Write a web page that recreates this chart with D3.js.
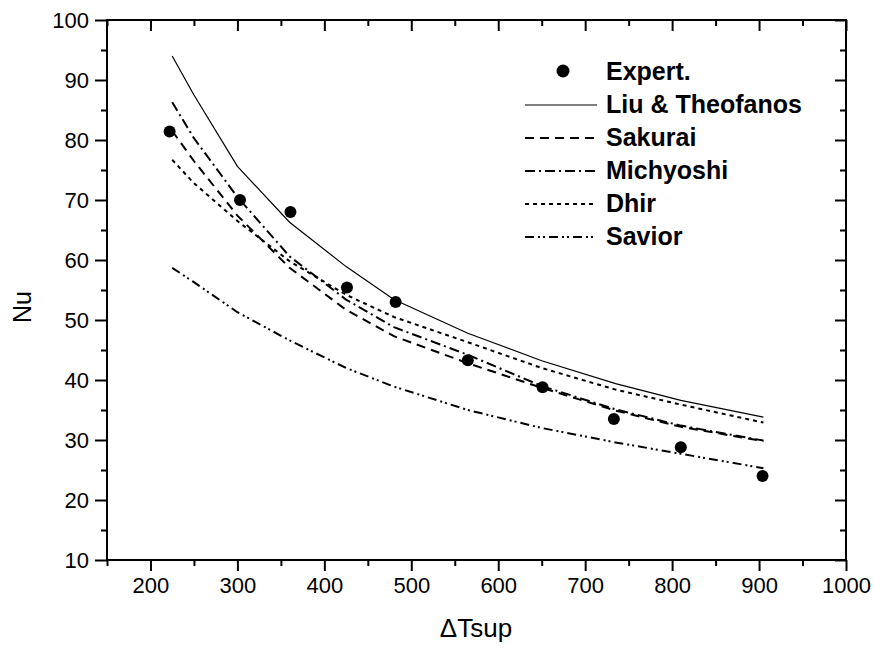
<!DOCTYPE html>
<html>
<head>
<meta charset="utf-8">
<script src="https://cdn.jsdelivr.net/npm/d3@7"></script>
<style>
  body { margin: 0; background: #fff; }
  text { font-family: "Liberation Sans", Arial, sans-serif; fill: #000; }
</style>
</head>
<body>
<div id="chart"></div>
<script>
// experimental points
var expertX = [222, 303, 361, 426, 482, 565, 651, 733, 810, 904];
var expertY = [81.4, 70.0, 68.0, 55.4, 53.0, 43.3, 38.8, 33.5, 28.8, 24.0];

// correlations, read at these superheat values
var curveX = [225, 250, 300, 360, 425, 480, 565, 650, 735, 810, 905];
var liuY = [94.0, 87.5, 75.6, 66.3, 58.9, 53.4, 47.8, 43.2, 39.4, 36.6, 33.8];
var sakuraiY = [81.5, 76.5, 67.4, 58.7, 51.7, 47.3, 42.8, 38.7, 34.9, 32.2, 29.8];
var michyoshiY = [86.3, 80.3, 70.5, 60.6, 53.4, 48.8, 44.2, 39.0, 35.1, 32.4, 29.9];
var dhirY = [76.7, 72.8, 66.5, 59.8, 54.2, 50.5, 46.3, 42.0, 38.4, 35.9, 32.9];
var saviorY = [58.7, 56.3, 51.3, 46.6, 42.0, 38.9, 35.0, 32.0, 29.6, 27.7, 25.3];

var xMajor = [200, 300, 400, 500, 600, 700, 800, 900, 1000];
var xMinor = [150, 250, 350, 450, 550, 650, 750, 850, 950];
var yMajor = [10, 20, 30, 40, 50, 60, 70, 80, 90, 100];
var yMinor = [15, 25, 35, 45, 55, 65, 75, 85, 95];

var series = [
    { name: "Liu & Theofanos", y: liuY, dash: null, w: 1.2 },
    { name: "Sakurai", y: sakuraiY, dash: "9,6", w: 2 },
    { name: "Michyoshi", y: michyoshiY, dash: "10,4,2,4", w: 2 },
    { name: "Dhir", y: dhirY, dash: "4,4", w: 2 },
    { name: "Savior", y: saviorY, dash: "9,4,2,3,2,4", w: 2 }
];

var width = 874;
var height = 648;

var svg = d3.select("#chart")
    .append("svg")
    .attr("width", width)
    .attr("height", height);

var x = d3.scaleLinear().domain([150, 1000]).range([107, 846]);
var y = d3.scaleLinear().domain([10, 100]).range([560, 20]);

// tick marks: bottom/left outward, top/right inward
svg.append("g")
    .attr("transform", "translate(0,560)")
    .call(d3.axisBottom(x).tickValues(xMajor).tickSize(11).tickPadding(6).tickFormat(d3.format("d")))
    .call(function(g) { g.select(".domain").remove(); });
svg.append("g")
    .attr("transform", "translate(0,560)")
    .call(d3.axisBottom(x).tickValues(xMinor).tickSize(6).tickFormat(""))
    .call(function(g) { g.select(".domain").remove(); });

svg.append("g")
    .attr("transform", "translate(107,0)")
    .call(d3.axisLeft(y).tickValues(yMajor).tickSize(12).tickPadding(6))
    .call(function(g) { g.select(".domain").remove(); });
svg.append("g")
    .attr("transform", "translate(107,0)")
    .call(d3.axisLeft(y).tickValues(yMinor).tickSize(6).tickFormat(""))
    .call(function(g) { g.select(".domain").remove(); });

svg.append("g")
    .attr("transform", "translate(0,20)")
    .call(d3.axisBottom(x).tickValues(xMajor).tickSize(11).tickFormat(""))
    .call(function(g) { g.select(".domain").remove(); });
svg.append("g")
    .attr("transform", "translate(0,20)")
    .call(d3.axisBottom(x).tickValues(xMinor).tickSize(6).tickFormat(""))
    .call(function(g) { g.select(".domain").remove(); });

svg.append("g")
    .attr("transform", "translate(846,0)")
    .call(d3.axisLeft(y).tickValues(yMajor).tickSize(11).tickFormat(""))
    .call(function(g) { g.select(".domain").remove(); });
svg.append("g")
    .attr("transform", "translate(846,0)")
    .call(d3.axisLeft(y).tickValues(yMinor).tickSize(6).tickFormat(""))
    .call(function(g) { g.select(".domain").remove(); });

svg.selectAll(".tick line").attr("stroke", "#000").attr("stroke-width", 2);
svg.selectAll(".tick text")
    .style("font-family", "'Liberation Sans', Arial, sans-serif")
    .style("font-size", "22px")
    .attr("fill", "#000");

// frame
svg.append("rect")
    .attr("x", 107).attr("y", 20)
    .attr("width", 846 - 107).attr("height", 560 - 20)
    .attr("fill", "none")
    .attr("stroke", "#000")
    .attr("stroke-width", 2);

// curves
var line = d3.line()
    .x(function(d) { return x(d[0]); })
    .y(function(d) { return y(d[1]); });

series.forEach(function(s) {
    svg.append("path")
        .datum(curveX.map(function(v, i) { return [v, s.y[i]]; }))
        .attr("d", line)
        .attr("fill", "none")
        .attr("stroke", "#000")
        .attr("stroke-width", s.w)
        .attr("stroke-dasharray", s.dash);
});

// experimental points
svg.append("g")
    .selectAll("circle")
    .data(expertX.map(function(v, i) { return [v, expertY[i]]; }))
    .enter()
    .append("circle")
    .attr("cx", function(d) { return x(d[0]); })
    .attr("cy", function(d) { return y(d[1]); })
    .attr("r", 6)
    .attr("fill", "#000");

// legend
var legend = svg.append("g");
legend.append("circle")
    .attr("cx", 563).attr("cy", 71).attr("r", 6.5).attr("fill", "#000");
legend.append("text")
    .attr("x", 606).attr("y", 80)
    .style("font-size", "25px").style("font-weight", "bold")
    .text("Expert.");

series.forEach(function(s, i) {
    var by = 113 + i * 33;
    legend.append("line")
        .attr("x1", 525).attr("x2", 597)
        .attr("y1", by - 8).attr("y2", by - 8)
        .attr("stroke", "#000")
        .attr("stroke-width", s.w)
        .attr("stroke-dasharray", s.dash);
    legend.append("text")
        .attr("x", 606).attr("y", by)
        .style("font-size", "25px").style("font-weight", "bold")
        .text(s.name);
});

// axis titles
svg.append("text")
    .attr("x", 476).attr("y", 637)
    .attr("text-anchor", "middle")
    .style("font-size", "26px")
    .text("\u0394Tsup");

svg.append("text")
    .attr("transform", "translate(31,307) rotate(-90)")
    .attr("text-anchor", "middle")
    .style("font-size", "25px")
    .text("Nu");
</script>
</body>
</html>
